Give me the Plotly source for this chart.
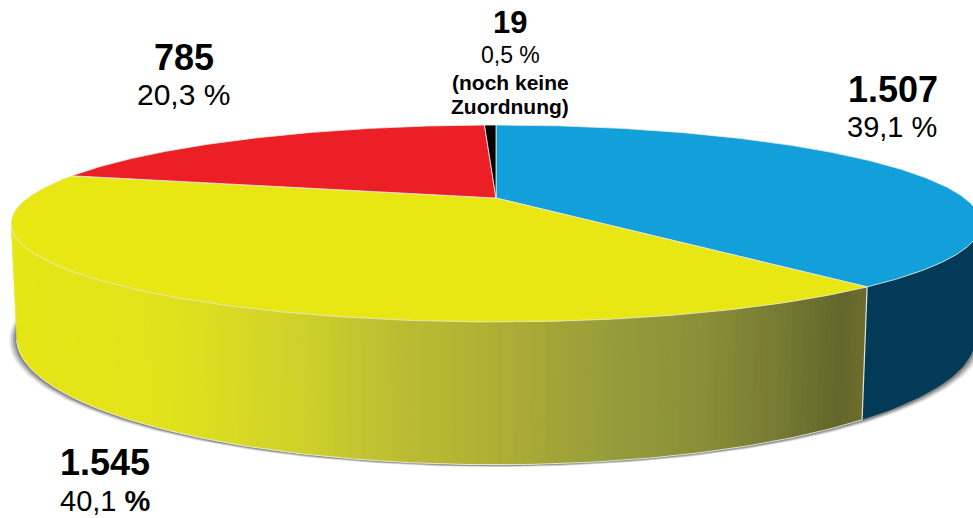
import numpy as np
import plotly.graph_objects as go

# ---- data ----
categories = ["Blau", "Gelb", "Rot", "noch keine Zuordnung"]
values = [1507, 1545, 785, 19]
value_labels = ["1.507", "1.545", "785", "19"]
percent_labels = ["39,1 %", "40,1 <b>%</b>", "20,3 %", "0,5 %"]

# ---- style ----
top_colors = ["#129FDA", "#E9E713", "#ED1F26", "#050505"]
BLUE_SIDE = "#023A57"
YELLOW_X = [17, 100, 170, 300, 400, 490, 600, 700, 780, 840, 861]
YELLOW_RGB = [(230, 230, 22), (228, 228, 24), (224, 226, 28), (207, 209, 43), (188, 188, 51),
              (175, 176, 52), (152, 158, 58), (138, 143, 56), (119, 122, 51), (98, 102, 42), (108, 108, 46)]

W, H = 973, 518
# perspective view of the disc
CX, K, A, B, C = 496.0, 468.5, 40.6, 198.0, -0.2589
DEPTH_W, DEPTH_Y = 0.011, 110.9


def project(theta, low=False):
    """theta: clockwise from 12 o'clock, radians."""
    u, v = np.sin(theta), -np.cos(theta)
    w = 1 + C * v + (DEPTH_W if low else 0)
    y = A * v + B + (DEPTH_Y if low else 0)
    return CX + K * u / w, y / w


def yellow_color(x):
    r, g, b = [np.interp(x, YELLOW_X, [c[i] for c in YELLOW_RGB]) for i in range(3)]
    return f"rgb({r:.0f},{g:.0f},{b:.0f})"


fig = go.Figure()


def poly(x, y, fill, line=None, width=0):
    fig.add_trace(go.Scatter(
        x=list(x), y=list(y), mode="lines", fill="toself", fillcolor=fill,
        line=dict(color=line or fill, width=width), hoverinfo="skip", showlegend=False))


shares = np.array(values, dtype=float) / sum(values)
edges = np.concatenate([[0], np.cumsum(shares)]) * 2 * np.pi

# soft shadow below the disc
full = np.linspace(0, 2 * np.pi, 361)
bx, by = project(full, low=True)
for s, dy, alpha in [(1.016, 2.5, .10), (1.012, 2.0, .16), (1.008, 1.5, .22), (1.004, 1.0, .30)]:
    poly(CX + (bx - CX) * s, by + dy, f"rgba(50,50,50,{alpha})")

# visible side wall: the limits are where the rim turns away from the viewer
tmin, tmax = np.radians(105.8), np.radians(254.2)
split = edges[1]

# blue side
t = np.linspace(tmin, split, 40)
tx, ty = project(t)
lx, ly = project(t, low=True)
poly(np.r_[tx, lx[::-1]], np.r_[ty, ly[::-1]], BLUE_SIDE)

# yellow side, shaded by overlapping strips drawn from right to left
t = np.linspace(split, tmax, 161)
for i in range(len(t) - 1):
    seg = t[i:min(i + 3, len(t))]
    tx, ty = project(seg)
    lx, ly = project(seg, low=True)
    xmid = 0.5 * (tx[:2].mean() + lx[:2].mean())
    poly(np.r_[tx, lx[::-1]], np.r_[ty, ly[::-1]], yellow_color(xmid))

# rim lines of the wall
t = np.linspace(split, tmax, 160)
lx, ly = project(t, low=True)
fig.add_trace(go.Scatter(x=lx, y=ly, mode="lines", line=dict(color="rgba(235,235,225,.9)", width=1),
                         hoverinfo="skip", showlegend=False))
sx, sy = project(np.array([split, split]), low=False)
lx, ly = project(np.array([split]), low=True)
fig.add_trace(go.Scatter(x=[sx[0], lx[0]], y=[sy[0], ly[0]], mode="lines",
                         line=dict(color="rgba(235,235,225,.95)", width=1.2),
                         hoverinfo="skip", showlegend=False))

# top face slices
hx, hy = project(np.array([0.0]))[0][0], B
for i in range(len(values)):
    n = max(3, int((edges[i + 1] - edges[i]) * 90))
    t = np.linspace(edges[i], edges[i + 1], n)
    x, y = project(t)
    poly(np.r_[hx, x, hx], np.r_[hy, y, hy], top_colors[i],
         line="rgba(235,235,225,.8)", width=1)

# labels
text_items = [
    (893, 89, f"<b>{value_labels[0]}</b>", 36),
    (892, 127, percent_labels[0], 29),
    (105, 462, f"<b>{value_labels[1]}</b>", 36),
    (105, 501, percent_labels[1], 29),
    (184, 57, f"<b>{value_labels[2]}</b>", 36),
    (183, 94, percent_labels[2], 30),
    (510, 22, f"<b>{value_labels[3]}</b>", 31),
    (510, 55, percent_labels[3], 23),
    (510, 82, "<b>(noch keine</b>", 21),
    (510, 106, "<b>Zuordnung)</b>", 21),
]
for x, y, txt, size in text_items:
    fig.add_annotation(x=x, y=y, text=txt, showarrow=False, xanchor="center", yanchor="middle",
                       font=dict(family="Liberation Sans", size=size, color="#000000"))

fig.update_layout(
    width=W, height=H, margin=dict(l=0, r=0, t=0, b=0),
    paper_bgcolor="white", plot_bgcolor="white", showlegend=False,
    xaxis=dict(range=[0, W], visible=False, fixedrange=True),
    yaxis=dict(range=[H, 0], visible=False, fixedrange=True),
)
fig.write_html("out.html", config={"displayModeBar": False},
               post_script="document.body.style.margin='0';document.body.style.overflow='hidden';")
